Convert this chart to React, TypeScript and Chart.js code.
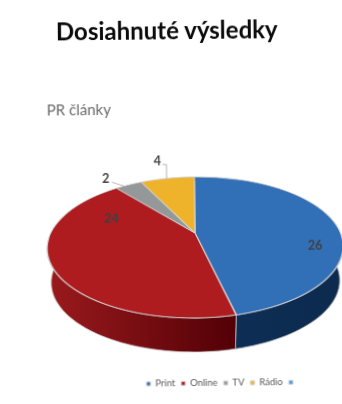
import React, { useEffect, useRef } from "react";
import { Chart, registerables } from "chart.js";

Chart.register(...registerables);

const heading = "Dosiahnuté výsledky";
const chartTitle = "PR články";
const categories = ["Print", "Online", "TV", "Rádio", ""];
const articleCounts = [26, 24, 2, 4, 0];
const sliceColors = ["#316fb6", "#ae1c20", "#959898", "#efb32b", "#4f9bd9"];
const wallStart = ["#0d2f57", "#9a1a1d", "#777", "#b98a20", "#333"];
const wallEnd = ["#0d2a4e", "#520006", "#555", "#8c6515", "#333"];

// Perspective of the tilted disc, in canvas pixels.
const view = { cx: 195, cy: 233, radius: 144.8, tilt: 0.2057, spread: 67.5, depth: 34, taper: 0.975 };

// Label placement: radial fraction of the slice plus a pixel nudge.
const labelPlace = [
  { f: 0.8, dx: 7, dy: 20, leader: null },
  { f: 0.8, dx: 29, dy: -40, leader: null },
  { f: 1, dx: -23, dy: -6, leader: "slant" },
  { f: 1, dx: -10, dy: -17, leader: "elbow" },
  { f: 1, dx: 0, dy: 0, leader: null },
];

function project(angle: number, f: number) {
  const u = Math.cos(angle) * f;
  const v = Math.sin(angle) * f;
  const s = 1 / (1 - view.tilt * v);
  return { x: view.cx + view.radius * u * s, y: view.cy + view.spread * v * s };
}

const tiltedPie = {
  id: "tiltedPie",
  beforeDatasetsDraw(chart: any) {
    const ctx = chart.ctx;
    const arcs = chart.getDatasetMeta(0).data;

    // Side wall of each slice, below the disc.
    arcs.forEach((arc: any, i: number) => {
      if (!arc.circumference) return;
      const { startAngle, endAngle } = arc;
      const steps = 80;
      const rim = [];
      for (let n = 0; n <= steps; n++) rim.push(project(startAngle + ((endAngle - startAngle) * n) / steps, 1));
      const xs = rim.map((p) => p.x);
      const g = ctx.createLinearGradient(Math.min(...xs), 0, Math.max(...xs), 0);
      g.addColorStop(0, wallStart[i]);
      g.addColorStop(1, wallEnd[i]);
      ctx.beginPath();
      rim.forEach((p, n) => (n ? ctx.lineTo(p.x, p.y) : ctx.moveTo(p.x, p.y)));
      [...rim].reverse().forEach((p) => ctx.lineTo(view.cx + (p.x - view.cx) * view.taper, p.y + view.depth));
      ctx.closePath();
      ctx.fillStyle = g;
      ctx.fill();
      ctx.strokeStyle = "rgba(200,200,200,0.75)";
      ctx.lineWidth = 1;
      ctx.stroke();
    });

    // The library's arcs, redrawn row by row under the perspective mapping.
    const first = arcs[0];
    const ex = first.x;
    const ey = first.y;
    const r0 = first.outerRadius;
    const invert = (dy: number) => dy / (view.spread + view.tilt * dy);
    for (let row = 170; row < 325; row++) {
      const v0 = invert(row - view.cy);
      const v1 = invert(row + 1 - view.cy);
      const s = 1 / (1 - (view.tilt * (v0 + v1)) / 2);
      const A = (view.radius / r0) * s;
      const D = 1 / (r0 * (v1 - v0));
      ctx.save();
      ctx.beginPath();
      ctx.rect(0, row, chart.width, 1);
      ctx.clip();
      ctx.setTransform(A, 0, 0, D, view.cx - A * ex, row - D * (ey + r0 * v0));
      arcs.forEach((arc: any) => arc.draw(ctx));
      ctx.restore();
    }

    // Value labels with their leader lines.
    ctx.save();
    ctx.font = "bold 12.5px Lato";
    ctx.fillStyle = "#404040";
    ctx.textAlign = "center";
    ctx.textBaseline = "middle";
    arcs.forEach((arc: any, i: number) => {
      if (!articleCounts[i]) return;
      const place = labelPlace[i];
      const anchor = project((arc.startAngle + arc.endAngle) / 2, place.f);
      const lx = anchor.x + place.dx;
      const ly = anchor.y + place.dy;
      ctx.fillText(String(articleCounts[i]), lx, ly);
      if (place.leader) {
        ctx.beginPath();
        ctx.strokeStyle = "#a6a6a6";
        ctx.lineWidth = 0.8;
        if (place.leader === "slant") {
          ctx.moveTo(lx + 6, ly + 3);
          ctx.lineTo(anchor.x - 2, anchor.y + 2);
        } else {
          ctx.moveTo(lx + 5, ly + 3);
          ctx.lineTo(anchor.x - 1, ly + 3);
          ctx.lineTo(anchor.x - 1, anchor.y);
        }
        ctx.stroke();
      }
    });
    ctx.restore();
    return false;
  },
};

export default function App() {
  const ref = useRef<HTMLCanvasElement>(null);
  useEffect(() => {
    const chart = new Chart(ref.current!, {
      type: "pie",
      data: {
        labels: categories,
        datasets: [
          {
            data: articleCounts,
            backgroundColor: sliceColors,
            borderColor: "#d4d4d4",
            borderWidth: 1,
          },
        ],
      },
      options: {
        responsive: false,
        animation: false,
        layout: { padding: { top: 100, left: 48, right: 40, bottom: 6 } },
        plugins: {
          tooltip: { enabled: false },
          title: {
            display: true,
            text: chartTitle,
            align: "start",
            color: "#6a6a6a",
            font: { family: "Lato", size: 15, weight: "normal" },
            padding: { top: 0, bottom: 10 },
          },
          legend: {
            position: "bottom",
            align: "end",
            labels: {
              usePointStyle: true,
              pointStyle: "rect",
              boxWidth: 4,
              boxHeight: 4,
              padding: 6,
              color: "#595959",
              font: { family: "Lato", size: 9.5 },
            },
          },
        },
      },
      plugins: [tiltedPie],
    } as any);
    return () => chart.destroy();
  }, []);

  return (
    <div
      style={{
        position: "fixed",
        left: 0,
        top: 0,
        width: 342,
        height: 404,
        overflow: "hidden",
        background: "#fff",
      }}
    >
      <div style={{ transform: "rotate(-0.6deg)", transformOrigin: "195px 233px", position: "relative" }}>
        <canvas ref={ref} width={342} height={404} style={{ display: "block" }} />
        <div
          style={{
            position: "absolute",
            left: 58,
            top: 15,
            font: "bold 24px Lato",
            color: "#0a0a0a",
            whiteSpace: "nowrap",
          }}
        >
          {heading}
        </div>
      </div>
    </div>
  );
}
